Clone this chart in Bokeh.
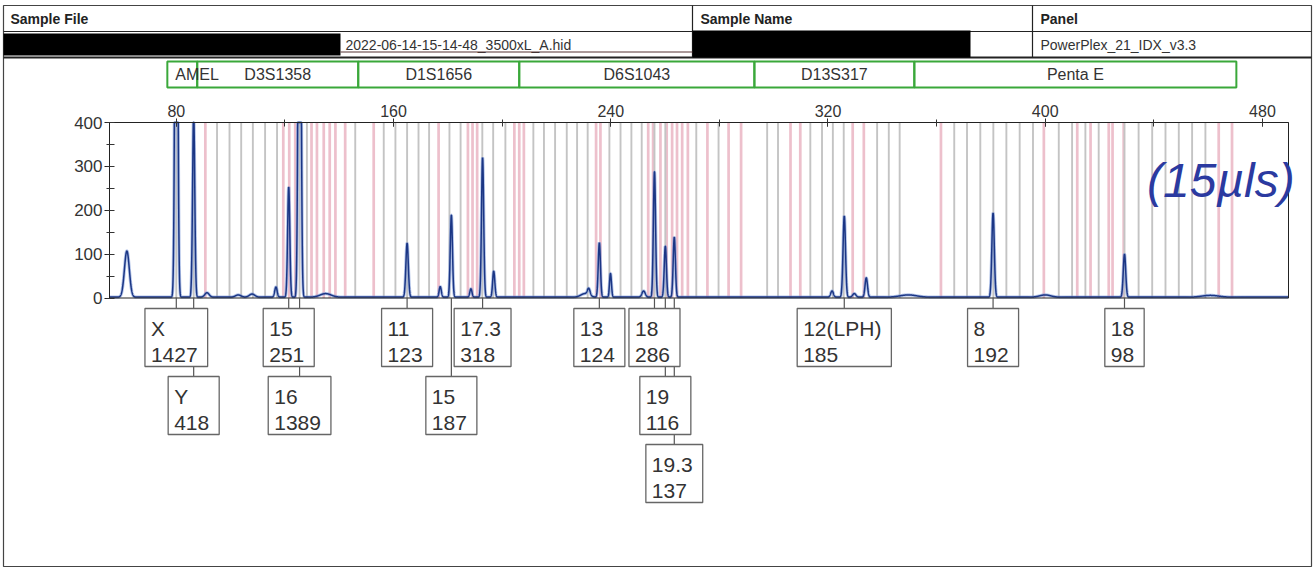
import numpy as np
from bokeh.plotting import figure
from bokeh.models import Range1d, SingleIntervalTicker, Label, LinearAxis
from bokeh.embed import file_html
from bokeh.resources import INLINE
from bokeh.core.properties import value

FONT = "Liberation Sans"

# ---------------- data ----------------
size_start, size_end = 55.4, 489.6          # bp window shown
rfu_max = 400

header_titles = ["Sample File", "Sample Name", "Panel"]
sample_file = "2022-06-14-15-14-48_3500xL_A.hid"
panel_name = "PowerPlex_21_IDX_v3.3"

marker_names = ["AMEL", "D3S1358", "D1S1656", "D6S1043", "D13S317", "Penta E"]
marker_start = [76.7, 87.7, 147.0, 206.3, 292.9, 351.8]
marker_end = [87.7, 147.0, 206.3, 292.9, 351.8, 470.4]

grey_bins = [80.0, 86.4, 95.0, 99.6, 103.9, 108.2, 112.7, 117.1, 125.4, 128.1,
             145.9, 156.4, 160.7, 165.0, 169.2, 173.1, 180.6, 184.7, 192.7, 196.7,
             201.2, 211.5, 215.4, 219.5, 223.8, 227.6, 231.5, 239.5, 243.6, 247.6,
             251.4, 256.1, 260.1, 271.5, 279.7, 297.6, 301.6, 313.5, 317.8, 321.8,
             325.8, 338.1, 342.4, 346.4, 366.5, 371.2, 376.1, 380.9, 385.7, 390.6,
             395.5, 405.0, 409.9, 414.8, 419.7, 429.2, 434.4, 439.4, 444.3, 449.2,
             454.1, 459.0]
pink_bins = [90.7, 119.4, 121.6, 123.8, 129.8, 131.8, 134.3, 136.5, 138.6, 142.2,
             152.7, 176.6, 187.4, 189.1, 190.8, 204.5, 206.3, 208.0, 234.6, 236.2,
             253.8, 255.6, 258.3, 260.6, 262.6, 264.4, 266.3, 268.4, 275.6, 283.4,
             288.0, 306.2, 309.8, 329.1, 333.2, 361.6, 399.5, 411.8, 416.7, 423.4,
             424.8, 428.9, 463.9, 468.8]

peak_bp = [61.8, 80.0, 86.4, 91.3, 102.8, 107.9, 116.7, 121.4, 125.4, 135.0,
           165.0, 177.2, 181.3, 188.5, 192.8, 196.9, 230.5, 231.9, 235.8, 239.9,
           252.1, 256.1, 260.1, 263.4, 321.5, 326.0, 329.7, 334.1, 349.6, 380.8,
           400.0, 429.2, 460.8]
peak_rfu = [105, 1427, 418, 10, 5, 7, 23, 251, 1389, 8,
            123, 24, 187, 19, 318, 59, 8, 15, 124, 54,
            14, 286, 116, 137, 14, 185, 8, 44, 5, 192,
            5, 98, 4]
peak_sd = [0.9, 0.45, 0.4, 0.8, 1.0, 1.0, 0.45, 0.4, 0.45, 2.0,
           0.45, 0.4, 0.4, 0.4, 0.4, 0.4, 1.5, 0.5, 0.4, 0.35,
           0.6, 0.4, 0.4, 0.4, 0.5, 0.45, 0.6, 0.45, 3.0, 0.45,
           2.0, 0.45, 3.0]

call_bp = [80.0, 86.4, 121.4, 125.4, 165.0, 181.3, 192.8, 235.8, 256.1, 260.1,
           263.4, 326.0, 380.8, 429.2]
call_allele = ["X", "Y", "15", "16", "11", "15", "17.3", "13", "18", "19",
               "19.3", "12(LPH)", "8", "18"]
call_height = [1427, 418, 251, 1389, 123, 187, 318, 124, 286, 116,
               137, 185, 192, 98]
call_row = [0, 1, 0, 1, 0, 1, 0, 0, 0, 1, 2, 0, 0, 0]   # label stacking level

note_text = "(15\u00b5ls)"

# ---------------- page geometry (pixels of the page) ----------------
OX, OY, W, H = 0, 0, 1314, 568
PLOT_L, PLOT_R, PLOT_T, PLOT_B = 109, 1288, 122, 297.5
TXT = "#333333"
GREEN = "#3aa83a"

k = (size_end - size_start) / (PLOT_R - PLOT_L)
m = rfu_max / (PLOT_B - PLOT_T)
x_range = Range1d(size_start - (PLOT_L - OX) * k, size_end + (OX + W - PLOT_R) * k)
y_range = Range1d(-(OY + H - PLOT_B) * m, rfu_max + (PLOT_T - OY) * m)

p = figure(width=W, height=H, x_range=x_range, y_range=y_range, min_border=0,
           x_axis_type=None, y_axis_type=None, output_backend="svg",
           toolbar_location=None)
p.title.visible = False
p.xgrid.visible = False
p.ygrid.visible = False
p.outline_line_color = None
p.background_fill_color = "white"
p.border_fill_color = "white"
p.extra_x_ranges = {"px": Range1d(OX, OX + W)}
p.extra_y_ranges = {"py": Range1d(OY + H, OY)}

# ---------------- page frame and header table ----------------
p.quad(left=[3], right=[1311], top=[5], bottom=[566], fill_color=None,
       line_color="#444444", line_width=1.2, x_range_name="px", y_range_name="py")
p.segment(x0=[3, 3], y0=[31, 57], x1=[1311, 1311], y1=[31, 57],
          line_color="#222222", line_width=[1.2, 2],
          x_range_name="px", y_range_name="py")
p.segment(x0=[692, 1032], y0=[5, 5], x1=[692, 1032], y1=[57, 57],
          line_color="#222222", line_width=1.2, x_range_name="px", y_range_name="py")
p.quad(left=[3, 692], right=[340, 970], top=[33, 30], bottom=[55, 57],
       fill_color="black", line_color=None, x_range_name="px", y_range_name="py")
p.text(x=[10, 700, 1040], y=[18, 18, 18], text=header_titles,
       text_font=value(FONT), text_font_style="bold", text_font_size="14px",
       text_color="#222222", text_baseline="middle", text_align="left",
       x_range_name="px", y_range_name="py")
p.text(x=[345, 1040], y=[44, 44], text=[sample_file, panel_name],
       text_font=value(FONT), text_font_size="14px", text_color="#333333",
       text_baseline="middle", text_align="left", x_range_name="px", y_range_name="py")
p.segment(x0=[340], y0=[51.5], x1=[692], y1=[51.5], line_color="#553333",
          line_width=1, x_range_name="px", y_range_name="py")

# ---------------- marker bar ----------------
p.quad(left=marker_start, right=marker_end, top=61, bottom=87, fill_color=None,
       line_color=GREEN, line_width=2, y_range_name="py")
mid = [(a + b) / 2 for a, b in zip(marker_start, marker_end)]
p.text(x=mid[1:], y=[74] * (len(mid) - 1), text=marker_names[1:],
       text_font=value(FONT), text_font_size="16px", text_color=TXT,
       text_align="center", text_baseline="middle", y_range_name="py")
p.text(x=marker_start[:1], y=[74], text=marker_names[:1], x_offset=8,
       text_font=value(FONT), text_font_size="16px", text_color=TXT,
       text_align="left", text_baseline="middle", y_range_name="py")

# ---------------- electropherogram ----------------
p.vbar(x=pink_bins, width=1.0, top=rfu_max, bottom=0, fill_color="#ebb9c6",
       line_color=None, fill_alpha=0.9)
p.vbar(x=grey_bins, width=0.7, top=rfu_max, bottom=0, fill_color="#c4c4c4",
       line_color=None)

xs = np.arange(size_start, size_end, 0.04)
ys = np.full_like(xs, 2.0)
for b, h, s in zip(peak_bp, peak_rfu, peak_sd):
    ys += h * np.exp(-0.5 * ((xs - b) / s) ** 2)
ys = np.minimum(ys, rfu_max)          # the view is clipped at 400 RFU
p.line(xs, ys, line_color="#7f9bd8", line_width=3.2, line_alpha=0.6)
p.line(xs, ys, line_color="#1b3685", line_width=1.5)

p.quad(left=[size_start], right=[size_end], bottom=[0], top=[rfu_max],
       fill_color=None, line_color="#222222", line_width=1)

xax = LinearAxis(fixed_location=rfu_max, bounds=(size_start, size_end),
                 ticker=SingleIntervalTicker(interval=80, num_minor_ticks=2))
yax = LinearAxis(fixed_location=size_start, bounds=(0, rfu_max),
                 ticker=SingleIntervalTicker(interval=100, num_minor_ticks=2))
for ax in (xax, yax):
    ax.axis_line_color = "#222222"
    ax.major_tick_line_color = "#222222"
    ax.minor_tick_line_color = "#333333"
    ax.major_label_text_font = FONT
    ax.major_label_text_color = TXT
    ax.major_label_standoff = 2
xax.major_label_text_font_size = "16px"
yax.major_label_text_font_size = "17px"
xax.major_tick_in = 4
xax.major_tick_out = 4
xax.minor_tick_in = 4
xax.minor_tick_out = 3
yax.major_tick_in = 0
yax.major_tick_out = 5
yax.minor_tick_in = 5
yax.minor_tick_out = 3
p.add_layout(xax, "above")
p.add_layout(yax, "left")

p.add_layout(Label(x=437.5, y=268, text=note_text, text_font=FONT, text_font_size="48px",
                   text_font_style="italic", text_color="#2b3aa0", text_baseline="middle"))

# ---------------- allele call labels ----------------
char_w = {".": 0.278, "(": 0.333, ")": 0.333, "X": 0.667, "Y": 0.667, "L": 0.556,
          "P": 0.667, "H": 0.722}
FS = 21


def tw(s):
    return sum(char_w.get(c, 0.556) for c in s) * FS


box_w = [max(tw(a), tw(str(h))) + 16 for a, h in zip(call_allele, call_height)]
row_top = [308 + 68 * r for r in call_row]

p.segment(x0=call_bp, y0=[PLOT_B] * len(call_bp), x1=call_bp, y1=row_top,
          line_color="#555555", line_width=1.2, y_range_name="py")
p.rect(x=call_bp, y=[t + 29 for t in row_top], width=box_w, width_units="screen",
       height=58, fill_color="white", line_color="#666666", line_width=1.3,
       y_range_name="py")
for b, a, h, t, w in zip(call_bp, call_allele, call_height, row_top, box_w):
    p.text(x=[b, b], y=[t + 20, t + 46], text=[a, str(h)], x_offset=-w / 2 + 6,
           text_font=value(FONT), text_font_size=f"{FS}px", text_color=TXT,
           text_align="left", text_baseline="middle", y_range_name="py")

open("out.html", "w").write(file_html(p, INLINE))
